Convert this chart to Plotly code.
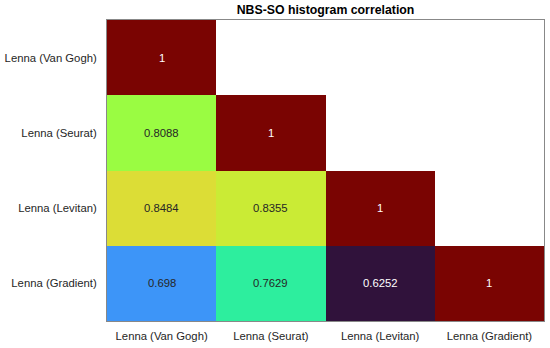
import plotly.graph_objects as go

labels = ["Lenna (Van Gogh)", "Lenna (Seurat)", "Lenna (Levitan)", "Lenna (Gradient)"]
row_vangogh = [1, None, None, None]
row_seurat = [0.8088, 1, None, None]
row_levitan = [0.8484, 0.8355, 1, None]
row_gradient = [0.698, 0.7629, 0.6252, 1]
z = [row_vangogh, row_seurat, row_levitan, row_gradient]

vals = [v for r in z for v in r if v is not None]
zmin, zmax = min(vals), max(vals)

fig = go.Figure(go.Heatmap(
    z=z, x=labels, y=labels, colorscale="Turbo", zmin=zmin, zmax=zmax,
    showscale=False, hoverongaps=False, xgap=0, ygap=0,
))

annotations = []
for i, r in enumerate(z):
    for j, v in enumerate(r):
        if v is None:
            continue
        t = (v - zmin) / (zmax - zmin)
        color = "white" if (t < 0.12 or t > 0.85) else "#262626"
        annotations.append(dict(x=labels[j], y=labels[i], text=f"{v:g}", showarrow=False,
                                font=dict(size=11.3, color=color, family="Liberation Sans, Arial")))

fig.update_layout(
    width=550, height=348,
    margin=dict(l=107, r=6, t=20, b=27),
    paper_bgcolor="white", plot_bgcolor="white",
    title=dict(text="<b>NBS-SO histogram correlation</b>", x=(107 + 544) / 2 / 550, xanchor="center",
               y=1 - 10 / 348, yanchor="middle",
               font=dict(size=12.3, color="#000000", family="Liberation Sans, Arial")),
    font=dict(family="Liberation Sans, Arial", size=11.3, color="#262626"),
    annotations=annotations,
    xaxis=dict(showgrid=False, zeroline=False, ticks="", showline=True, mirror=True, automargin=False,
               linecolor="#888888", linewidth=1, tickfont=dict(size=11.3), ticklabelstandoff=4),
    yaxis=dict(showgrid=False, zeroline=False, ticks="", autorange="reversed", showline=True,
               mirror=True, linecolor="#888888", linewidth=1, automargin=False,
               tickfont=dict(size=11.3), ticklabelstandoff=7),
)

fig.write_html("out.html", config={"displayModeBar": False},
               post_script="document.body.style.margin='0';document.body.style.padding='0';")
